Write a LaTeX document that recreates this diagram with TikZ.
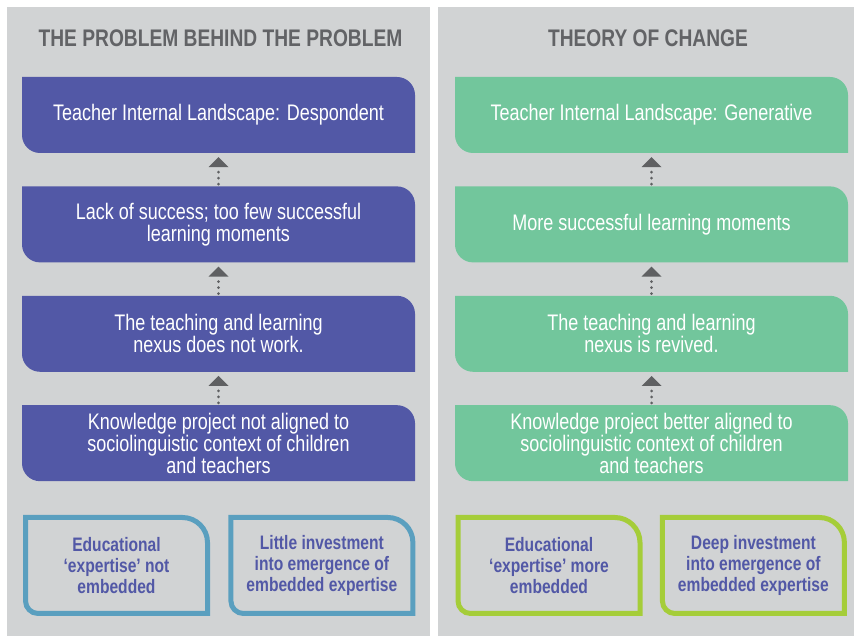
\documentclass[tikz,border=0pt]{standalone}
\usepackage{fontspec}
\setmainfont{Liberation Sans}[FakeStretch=0.8]
\usepackage{tikz}
\usetikzlibrary{shapes,arrows.meta,positioning}

\definecolor{panelgray}{HTML}{D1D3D4}
\definecolor{titlegray}{HTML}{626366}
\definecolor{arrowgray}{HTML}{5F6062}
\definecolor{problemblue}{HTML}{5258A6}
\definecolor{changegreen}{HTML}{72C69C}
\definecolor{edgeblue}{HTML}{5A9FBF}
\definecolor{edgelime}{HTML}{A5CD39}

\begin{document}
\begin{tikzpicture}
		[
		x = 1pt, y = 1pt,
		title/.style = {text = titlegray, font = \bfseries\fontsize{24}{24}\selectfont},
		tabbox/.style = {
			minimum width = 393pt, minimum height = 76pt,
			align = center, text = white, font = \fontsize{22.5}{22}\selectfont,
			path picture = {
				\fill[#1] (path picture bounding box.north west)
					-- ([xshift=-18pt]path picture bounding box.north east)
					arc[start angle=90, end angle=0, radius=18pt]
					-- (path picture bounding box.south east)
					-- ([xshift=18pt]path picture bounding box.south west)
					arc[start angle=270, end angle=180, radius=18pt]
					-- cycle;
			}
		},
		edgebox/.style = {
			minimum width = 187pt, minimum height = 101pt,
			align = center, text = problemblue, font = \bfseries\fontsize{19.5}{21}\selectfont,
			path picture = {
				\draw[#1, line width = 5pt] ([shift={(2.5pt,-2.5pt)}]path picture bounding box.north west)
					-- ([shift={(-27.5pt,-2.5pt)}]path picture bounding box.north east)
					arc[start angle=90, end angle=0, radius=25pt]
					-- ([shift={(-2.5pt,2.5pt)}]path picture bounding box.south east)
					-- ([shift={(15pt,2.5pt)}]path picture bounding box.south west)
					arc[start angle=270, end angle=180, radius=12.5pt]
					-- cycle;
			}
		},
		uparrow/.style = {
			arrowgray, line width = 3pt, line cap = round, dash pattern = on 0pt off 6pt,
			shorten < = 2pt, shorten > = 4pt,
			-{Triangle[width=20pt, length=10pt, line width=0pt]}
		},
		node distance = 33pt
		]
		
		\useasboundingbox (0,0) rectangle (854,636);
		\fill[white] (0,0) rectangle (854,636);
		\fill[panelgray] (7,0) rectangle (430,629);
		\fill[panelgray] (438,0) rectangle (854,629);
		
		\node[title] (ltitle) at (220.5,597.5) {THE PROBLEM BEHIND THE PROBLEM};
		\node[title] (rtitle) at (648,597.5) {THEORY OF CHANGE};
		
		\node[tabbox = problemblue] (l1) at (218.5,521) {Teacher Internal Landscape: Despondent};
		\node[tabbox = problemblue, below = of l1] (l2) {Lack of success; too few successful\\learning moments};
		\node[tabbox = problemblue, below = of l2] (l3) {The teaching and learning\\nexus does not work.};
		\node[tabbox = problemblue, below = of l3] (l4) {Knowledge project not aligned to\\sociolinguistic context of children\\and teachers};
		
		\node[tabbox = changegreen] (r1) at (651.5,521) {Teacher Internal Landscape: Generative};
		\node[tabbox = changegreen, below = of r1] (r2) {More successful learning moments};
		\node[tabbox = changegreen, below = of r2] (r3) {The teaching and learning\\nexus is revived.};
		\node[tabbox = changegreen, below = of r3] (r4) {Knowledge project better aligned to\\sociolinguistic context of children\\and teachers};
		
		\draw[uparrow] (l2) -- (l1);
		\draw[uparrow] (l3) -- (l2);
		\draw[uparrow] (l4) -- (l3);
		\draw[uparrow] (r2) -- (r1);
		\draw[uparrow] (r3) -- (r2);
		\draw[uparrow] (r4) -- (r3);
		
		\node[edgebox = edgeblue] (lb1) at (116.5,70.5) {Educational\\`expertise' not\\embedded};
		\node[edgebox = edgeblue, right = 18pt of lb1] (lb2) {Little investment\\into emergence of\\embedded expertise};
		\node[edgebox = edgelime] (rb1) at (549,70.5) {Educational\\`expertise' more\\embedded};
		\node[edgebox = edgelime, right = 17pt of rb1] (rb2) {Deep investment\\into emergence of\\embedded expertise};
		
		\end{tikzpicture}
\end{document}
